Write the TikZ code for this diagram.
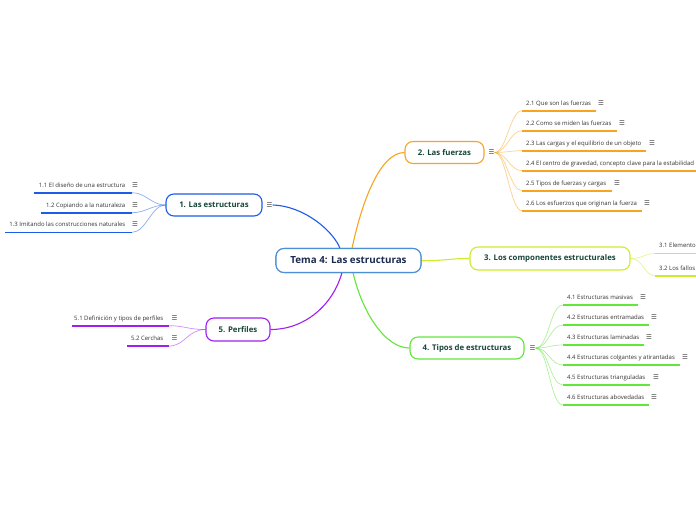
\documentclass[tikz,border=0pt]{standalone}
\usepackage{fontspec}
\setmainfont{Open Sans}
\newfontfamily\symf{DejaVu Sans}
\definecolor{cblue}{HTML}{1D5CE8}
\definecolor{ccentral}{HTML}{4B8FD4}
\definecolor{corange}{HTML}{F8A422}
\definecolor{cyellow}{HTML}{CDEC2C}
\definecolor{cgreen}{HTML}{62E63A}
\definecolor{cpurple}{HTML}{A01FF0}
\definecolor{tgreen}{HTML}{18463A}
\definecolor{tnavy}{HTML}{1B2A4E}
\definecolor{tgray}{HTML}{333333}
\definecolor{igray}{HTML}{444444}
\newcommand{\ic}{{\symf ☰}}
\begin{document}
\begin{tikzpicture}[x=1pt,y=-1pt,
  central/.style={draw=ccentral, rounded corners=8pt, line width=1.1pt, fill=white,
    font=\fontsize{9.8}{11}\selectfont\bfseries, text=tnavy, minimum height=24pt, minimum width=145pt, inner sep=0pt},
  topic/.style={rounded corners=8pt, line width=1.1pt, fill=white,
    font=\fontsize{7.8}{9}\selectfont\bfseries, text=tgreen, minimum height=22pt, inner sep=0pt},
  subw/.style={font=\fontsize{6}{7}\selectfont, text=tgray, inner sep=0pt, anchor=base west},
  sube/.style={font=\fontsize{6}{7}\selectfont, text=tgray, inner sep=0pt, anchor=base east},
  icon/.style={font=\fontsize{6.5}{7}\selectfont, text=igray, inner sep=0pt, anchor=base},
  ul/.style={line width=1.6pt},
  link/.style={line width=1.1pt},
  sublink/.style={line width=0.7pt, draw opacity=0.5}]
\useasboundingbox (0,0) rectangle (696,520);
\fill[white] (0,0) rectangle (696,520);

% main nodes
\node[central] (c) at (348.5,260.5) {Tema 4: Las estructuras};
\node[topic, draw=cblue, minimum width=96pt] (t1) at (214,205) {1. Las estructuras};
\node[icon] (i1) at (269.5,207.3) {\ic};
\node[topic, draw=corange, minimum width=79pt] (t2) at (444.5,152.5) {2. Las fuerzas};
\node[icon] (i2) at (491.5,154.8) {\ic};
\node[topic, draw=cyellow, minimum width=160pt, minimum height=23pt] (t3) at (550,258.5) {3. Los componentes estructurales};
\node[topic, draw=cgreen, minimum width=114pt] (t4) at (467,348) {4. Tipos de estructuras};
\node[icon] (i4) at (532.5,350.3) {\ic};
\node[topic, draw=cpurple, minimum width=64pt, minimum height=23pt] (t5) at (238,329.5) {5. Perfiles};

% main connectors
\coordinate (cb) at (340,248.5);
\coordinate (co) at (352,248.5);
\coordinate (cg) at (353,272.5);
\coordinate (cp) at (342,272.5);
\draw[link, cblue] (i1.east |- t1.east) .. controls (305,206) and (334,232) .. (cb);
\draw[link, corange] (co) .. controls (360,210) and (378,152.5) .. (t2.west);
\draw[link, cgreen] (cg) .. controls (362,312) and (385,348) .. (t4.west);
\draw[link, cpurple] (cp) .. controls (333,305) and (305,329.5) .. (t5.east);
\draw[link, cyellow] (c.east) .. controls (445,261) and (448,258.5) .. (t3.west);
\node[central] at (c) {Tema 4: Las estructuras};

% group 2
\foreach \n/\y/\e/\ix/\t in {
  1/110.7/596/601/{2.1 Que son las fuerzas},
  2/130.7/617/622/{2.2 Como se miden las fuerzas},
  3/150.7/646/652/{2.3 Las cargas y el equilibrio de un objeto},
  4/170.7/696/0/{2.4 El centro de gravedad, concepto clave para la estabilidad},
  5/190.7/612/617/{2.5 Tipos de fuerzas y cargas},
  6/210.7/642/647/{2.6 Los esfuerzos que originan la fuerza}}{
  \coordinate (u2\n) at (522,\y);
  \coordinate (e2\n) at (\e,\y);
  \draw[sublink, corange] (i2.east |- t2.east) .. controls +(12,0) and +(-12,0) .. (u2\n);
  \draw[ul, corange] (u2\n) -- (e2\n);
  \node[subw] (s2\n) at (526,\y-5.7) {\t};
  \ifnum\ix>0 \node[icon] (k2\n) at (\ix,\y-5.7) {\ic}; \fi
}

% group 4
\foreach \n/\y/\e/\ix/\t in {
  1/305/638/643/{4.1 Estructuras masivas},
  2/325/649/654/{4.2 Estructuras entramadas},
  3/345/644/649/{4.3 Estructuras laminadas},
  4/365/680/685/{4.4 Estructuras colgantes y atirantadas},
  5/385/650/656/{4.5 Estructuras trianguladas},
  6/405/649/654/{4.6 Estructuras abovedadas}}{
  \coordinate (u4\n) at (563,\y);
  \coordinate (e4\n) at (\e,\y);
  \draw[sublink, cgreen] (i4.east |- t4.east) .. controls +(13,0) and +(-13,0) .. (u4\n);
  \draw[ul, cgreen] (u4\n) -- (e4\n);
  \node[subw] (s4\n) at (567,\y-5.7) {\t};
  \node[icon] (k4\n) at (\ix,\y-5.7) {\ic};
}

% group 3
\foreach \n/\y/\t in {1/253.5/{3.1 Elementos}, 2/275.7/{3.2 Los fallos}}{
  \coordinate (u3\n) at (655,\y);
  \coordinate (e3\n) at (696,\y);
  \draw[sublink, cyellow] (t3.east) .. controls +(13,0) and +(-11,0) .. (u3\n);
  \draw[ul, cyellow] (u3\n) -- (e3\n);
  \node[subw] (s3\n) at (659,\y-5.7) {\t};
}

% group 1
\foreach \n/\y/\s/\t in {
  1/192.7/34/{1.1 El diseño de una estructura},
  2/212.7/41/{1.2 Copiando a la naturaleza},
  3/232.3/5/{1.3 Imitando las construcciones naturales}}{
  \coordinate (u1\n) at (132,\y);
  \coordinate (e1\n) at (\s,\y);
  \draw[sublink, cblue] (t1.west) .. controls +(-14,0) and +(14,0) .. (u1\n);
  \draw[ul, cblue] (u1\n) -- (e1\n);
  \node[sube] (s1\n) at (125.5,\y-5.7) {\t};
  \node[icon] (k1\n) at (135,\y-5.7) {\ic};
}

% group 5
\foreach \n/\y/\s/\t in {
  1/325.7/72/{5.1 Definición y tipos de perfiles},
  2/346/127/{5.2 Cerchas}}{
  \coordinate (u5\n) at (169,\y);
  \coordinate (e5\n) at (\s,\y);
  \draw[sublink, cpurple] (t5.west) .. controls +(-18,0) and +(16,0) .. (u5\n);
  \draw[ul, cpurple] (u5\n) -- (e5\n);
  \node[sube] (s5\n) at (163.5,\y-5.7) {\t};
  \node[icon] (k5\n) at (174.5,\y-5.7) {\ic};
}
\end{tikzpicture}
\end{document}
